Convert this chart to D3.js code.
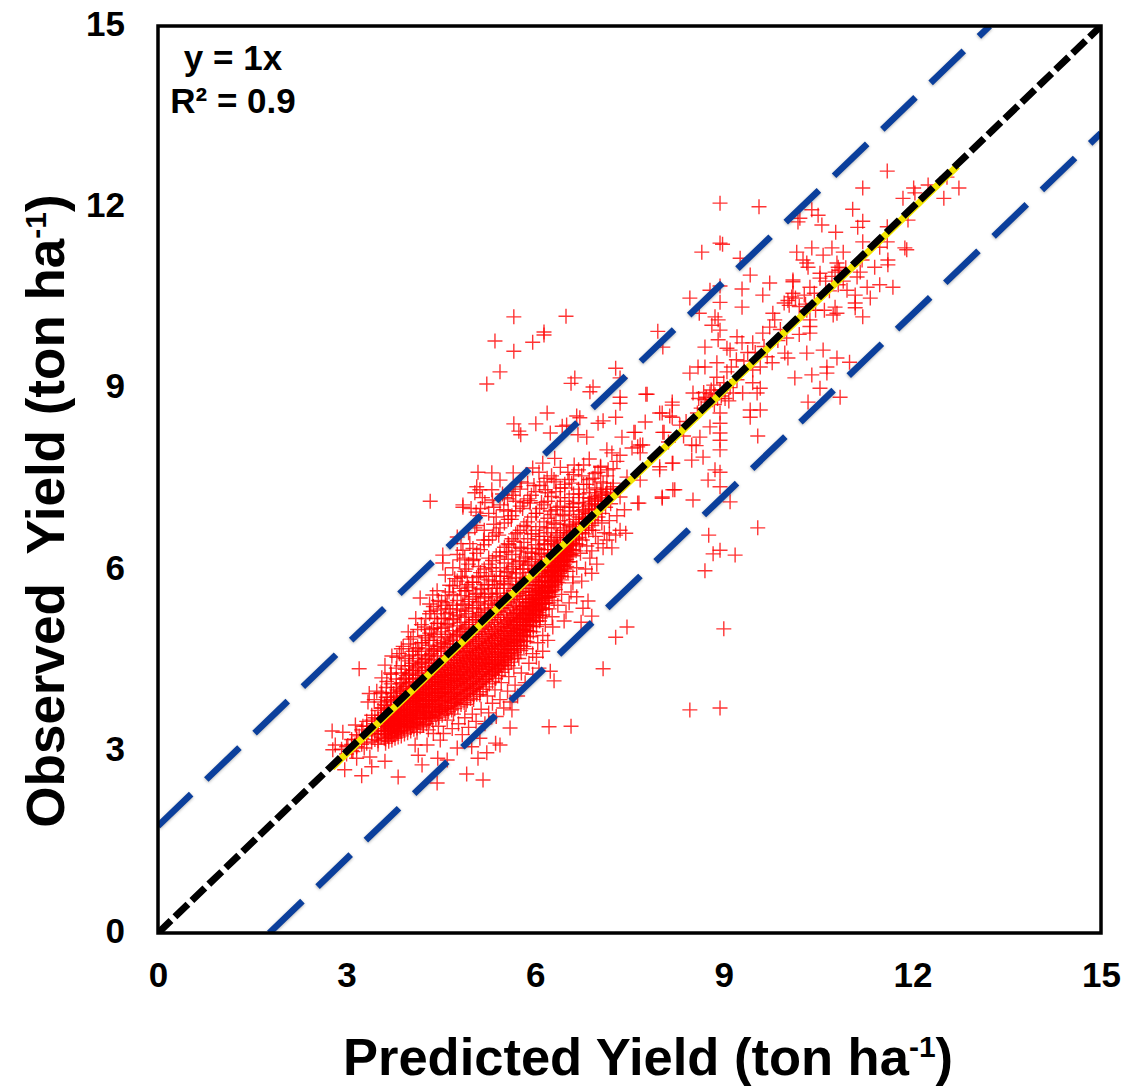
<!DOCTYPE html>
<html>
<head>
<meta charset="utf-8">
<script src="https://d3js.org/d3.v7.min.js"></script>
<style>
  body{margin:0;background:#fff;}
  svg{display:block;}
  text{font-family:"Liberation Sans",Arial,sans-serif;font-weight:bold;fill:#000;white-space:pre;}
</style>
</head>
<body>
<div id="chart"></div>
<script>
let w=1129;
let h=1088;

let xTicks=[0,3,6,9,12,15];
let yTicks=[0,3,6,9,12,15];
let blueOffset=1.77;
let yellowStart=2.75;
let yellowEnd=12.7;

// the outliers, one by one
let scatterTop=[[5.66,10.19],[6.49,10.2],[6.14,9.94],[6.14,9.89],[5.96,9.77],[5.36,9.79],[5.66,9.62],[5.44,9.28],[5.23,9.08],[7.95,9.95],[8.03,9.69],[7.28,9.34],[7.35,9.18],[6.63,9.18],[6.57,9.09],[6.92,9.03],[6.87,8.95],[7.35,8.86],[7.35,8.76],[7.76,8.91],[6.19,8.6],[5.66,8.42],[6.01,8.42],[5.77,8.24],[5.74,8.3],[6.24,8.27],[6.43,8.38],[6.5,8.4],[6.66,8.55],[6.71,8.52],[6.82,8.2],[6.68,8.24],[7.0,8.43],[7.08,8.47],[7.28,8.53],[7.75,8.45],[7.38,8.2],[7.57,8.28],[7.98,8.6],[8.14,8.55],[8.18,8.73],[8.05,8.28],[6.31,7.85],[6.12,7.77],[5.96,7.69],[6.06,7.62],[6.52,7.62],[6.19,7.52],[6.58,7.44],[6.47,7.36],[6.16,7.33],[5.09,7.62],[5.31,7.61],[5.65,7.61],[5.44,7.49],[5.07,7.38],[5.12,7.33],[5.04,7.28],[5.68,7.38],[5.65,7.24],[4.85,7.04],[5.31,7.33],[5.92,7.11],[7.14,7.99],[7.22,7.94],[7.35,7.9],[7.63,8.04],[7.71,8.07],[7.54,8.02],[7.67,7.94],[7.98,7.71],[8.18,7.77],[8.02,7.21],[8.19,7.33],[7.65,7.11],[7.0,7.62],[6.98,7.33],[7.08,7.44],[7.24,7.38],[7.14,7.28],[7.35,7.21],[6.87,7.19],[6.76,7.11],[6.55,7.04],[6.35,7.04],[5.92,7.15],[7.67,7.49],[7.46,7.54],[4.33,7.14],[4.85,7.08]];

let scatterRight=[[11.6,12.6],[11.21,12.32],[12.02,12.32],[12.25,12.37],[12.74,12.32],[12.55,12.5],[12.5,12.15],[11.85,12.15],[12.04,12.24],[11.05,11.97],[11.21,11.77],[11.13,11.67],[11.93,11.79],[11.6,11.68],[10.78,11.59],[10.4,11.96],[10.21,11.82],[10.18,11.76],[10.5,11.87],[10.56,11.71],[11.88,11.33],[11.91,11.3],[11.6,11.43],[11.21,11.43],[11.48,11.34],[10.16,11.26],[10.4,11.33],[10.26,11.13],[10.34,11.01],[10.58,11.21],[10.72,11.33],[10.9,11.26],[10.8,11.08],[10.82,11.01],[10.77,10.93],[11.61,11.13],[11.61,11.05],[11.4,11.01],[11.17,10.93],[11.12,10.85],[11.2,11.13],[11.69,10.68],[11.48,10.72],[11.28,10.68],[11.33,10.5],[11.09,10.55],[11.09,10.42],[11.09,10.34],[11.21,10.19],[10.96,10.63],[10.82,10.72],[10.53,10.91],[10.53,10.83],[10.1,10.77],[10.37,10.68],[10.08,10.52],[10.02,10.46],[10.14,10.5],[10.1,10.58],[10.04,10.38],[9.96,10.42],[10.2,10.36],[10.77,10.35],[10.8,10.25],[10.74,10.22],[10.6,10.3],[10.37,10.14],[10.37,10.03],[10.3,10.4],[10.46,10.3],[10.9,10.78],[10.68,10.62],[10.62,10.78],[10.44,10.58],[10.28,10.55],[10.84,10.96],[10.94,11.0],[10.72,10.86]];

let scatterMiddle=[[8.94,12.07],[9.56,12.01],[8.94,11.41],[8.98,11.39],[8.65,11.26],[9.42,10.88],[9.26,11.16],[9.73,10.75],[9.29,10.65],[9.62,10.55],[9.29,10.35],[8.94,10.7],[8.78,10.63],[8.46,10.5],[8.61,10.25],[8.94,10.43],[8.86,10.19],[8.91,10.14],[8.81,10.05],[8.94,9.97],[8.7,9.69],[8.91,9.81],[9.05,9.67],[9.21,9.86],[9.29,9.76],[9.46,9.76],[9.62,9.92],[9.73,10.02],[9.78,10.25],[9.81,10.14],[10.1,10.8],[10.32,11.08],[10.32,10.3],[10.37,9.92],[10.32,9.59],[10.58,9.64],[10.8,9.51],[11.0,9.44],[10.64,9.36],[10.64,9.26],[10.4,9.23],[10.13,9.18],[10.53,9.01],[10.85,8.86],[10.34,8.78],[9.97,9.59],[10.02,9.51],[9.69,9.53],[9.77,9.43],[9.58,9.36],[9.46,9.31],[9.1,9.64],[8.89,9.43],[8.7,9.36],[8.46,9.26],[8.59,9.36],[8.89,9.19],[9.05,9.28],[9.46,9.1],[9.58,9.01],[9.21,9.15],[9.15,8.93],[9.3,8.93],[9.53,8.93],[8.94,8.98],[8.51,8.93],[8.72,8.86],[8.78,8.92],[8.82,8.82],[8.86,8.9],[8.68,8.94],[8.75,8.78],[8.9,8.84],[8.96,8.88],[8.8,8.98],[8.7,8.82],[8.85,8.74],[9.02,8.84],[9.08,8.8],[8.6,8.84],[7.78,8.91],[8.18,8.78],[8.02,8.6],[8.18,8.53],[8.94,8.6],[8.94,8.43],[8.94,8.27],[8.94,8.15],[8.94,7.99],[9.42,8.65],[9.42,8.53],[9.58,8.65],[9.54,8.22],[8.78,8.37],[8.62,8.2],[8.49,8.07],[8.56,8.06],[8.67,7.87],[8.49,7.82],[8.03,8.28],[7.59,8.28],[7.67,8.07],[8.19,7.77],[7.98,7.66],[8.94,7.62],[8.75,7.49],[8.86,7.66],[8.94,7.38],[8.22,7.33],[8.02,7.19],[8.51,7.16],[9.1,7.13],[7.63,7.11],[9.12,9.36],[9.32,9.46],[9.5,9.6],[9.64,9.7],[9.86,9.8],[9.9,9.98],[9.38,9.6],[9.2,9.48],[10.0,9.84],[10.2,9.9],[8.3,8.4],[8.36,8.22],[8.12,8.12],[8.4,8.46],[8.58,8.6],[9.0,9.1],[8.84,9.06],[9.1,9.02],[8.64,8.68]];

let scatterLower=[[9.54,6.7],[8.76,6.58],[8.94,6.33],[8.83,6.27],[9.18,6.25],[8.7,5.99],[9.0,5.03],[8.94,3.72],[8.46,3.69],[7.46,5.06],[7.28,4.89],[7.08,4.37],[6.57,3.42],[6.22,3.41],[6.3,4.17],[6.24,4.33],[6.12,4.66],[6.28,5.06],[6.27,5.23],[6.49,5.31],[6.73,5.14],[6.9,5.24],[6.76,5.37],[6.84,5.49],[6.57,5.64],[6.6,5.79],[6.6,5.89],[6.9,5.95],[6.98,6.1],[6.87,6.2],[7.22,6.37],[7.08,6.37],[7.35,6.66],[7.44,6.61],[7.28,6.58],[6.92,6.66],[6.2,5.64],[6.08,5.21],[7.1,6.62],[7.18,6.82],[7.3,6.9],[7.42,7.0],[7.14,6.5],[6.82,6.4],
[3.2,4.37],[3.61,4.43],[2.77,3.34],[2.94,3.32],[2.82,3.11],[2.78,3.03],[2.92,3.04],[3.16,2.89],[3.37,2.91],[2.97,2.7],[3.24,2.6],[3.4,2.75],[3.61,2.84],[3.82,2.58],[4.2,2.78],[4.44,2.48],[4.45,2.89],[4.6,2.86],[4.91,2.63],[5.17,2.53],[5.09,2.89],[5.23,2.98],[5.44,3.11],[5.37,3.14],[5.6,3.39],[5.63,3.69],[4.76,3.06],[4.99,3.08],[5.12,3.22],[4.09,3.11],[4.14,2.94],[4.28,3.11],[4.49,3.19],[4.38,3.3],[3.8,3.31],[3.34,3.82],[3.36,3.96],[3.8,4.56],[3.02,3.1],[3.1,3.0],[3.2,3.26],[3.28,3.06],[3.5,3.12]];

// the looser cloud on both sides of the 1:1 line
let scatterCloud=[[4.17,5.54],[4.37,5.59],[4.53,6.25],[4.53,6.12],[4.76,6.55],[4.85,6.33],[4.8,6.17],[4.64,5.75],[4.1,5.2],[4.24,5.06],[4.34,5.32],[4.46,5.5],[4.58,5.42],[4.72,5.86],[4.9,6.02],[4.96,6.44],[5.04,6.7],[5.12,6.9],[5.18,6.5],[5.26,6.2],[5.34,6.76],[5.42,6.58],[5.5,7.0],[5.58,6.42],[5.62,6.84],[5.72,6.62],[5.8,7.02],[5.86,6.72],[6.02,6.94],[6.1,7.12],[6.24,6.98],[6.4,7.2],[5.02,6.18],[5.1,6.06],[5.22,5.9],[4.92,5.76],[4.84,5.88],[5.3,6.04],[5.44,6.22],[5.54,6.3],[5.66,6.48],[5.78,6.36],[5.94,6.6],[6.06,6.56],[6.18,6.7],[6.3,6.78],[6.44,6.92],[6.6,7.1],[6.7,7.26],[6.82,7.42],[6.92,7.52],[7.04,7.7],[7.16,7.66],[7.3,7.8],[6.3,7.5],[6.62,7.74],[6.74,7.56],[5.98,7.4],[5.78,7.46],[5.56,7.18],[5.2,7.12],[4.98,7.02],[5.06,6.96],[5.16,7.2],[5.34,7.04],[5.48,7.26],[3.98,4.98],[4.02,4.86],[3.9,4.74],[3.84,4.62],[3.72,4.58],[3.7,4.3],[3.64,4.16],[3.56,4.22],[3.48,4.0],[3.44,3.86],[3.56,3.96],[3.26,3.42],[3.14,3.44],
[4.02,3.4],[4.12,3.32],[4.22,3.44],[4.3,3.36],[4.34,3.56],[4.46,3.42],[4.54,3.3],[4.6,3.52],[4.68,3.38],[4.7,3.62],[4.78,3.46],[4.84,3.28],[4.88,3.56],[4.94,3.4],[5.0,3.62],[5.06,3.5],[5.14,3.7],[5.2,3.46],[5.26,3.64],[5.32,3.8],[5.38,3.58],[5.44,3.86],[5.5,3.72],[5.56,4.0],[5.6,3.82],[5.68,4.1],[5.72,3.92],[5.78,4.3],[5.84,4.14],[5.9,4.46],[5.96,4.28],[6.02,4.56],[6.06,4.38],[5.58,4.24],[5.46,4.14],[5.36,4.02],[5.24,3.92],[5.12,3.94],[5.02,3.86],[4.9,3.78],[4.74,3.8],[4.6,3.72],[4.48,3.66],[4.36,3.74],[4.24,3.64],[4.12,3.56],[4.02,3.6],[3.92,3.5],[3.84,3.46],[3.74,3.42],[3.66,3.36],[3.58,3.44],[3.48,3.28],
[6.12,4.92],[6.2,4.84],[6.04,4.8],[5.96,4.62],[6.16,5.1],[6.22,5.36],[6.1,5.44],[6.3,5.5],[6.36,5.42],[6.42,5.6],[6.46,5.16],[6.54,5.46],[6.66,5.56],[6.42,5.84],[6.52,5.98],[6.66,6.04],[6.74,5.82],[6.8,6.02],[6.9,6.32],[6.72,6.28],[7.0,6.44],[6.96,6.56],[7.06,6.78],[7.18,6.6],[5.86,4.7],[5.74,4.54],[5.66,4.38],[5.5,4.44]];

// tight core of the cloud, column by column: predicted value, then the observed values
let coreColumns=[
[3.0,[2.96,3.08]],[3.08,[3.02,3.12,3.2]],[3.16,[3.08,3.2,3.28]],[3.24,[3.12,3.22,3.36]],[3.32,[3.14,3.26,3.42,3.5]],
[3.4,[3.16,3.3,3.38,3.52,3.6]],[3.45,[3.2,3.34,3.46,3.56]],[3.5,[3.18,3.3,3.42,3.54,3.68]],[3.55,[3.24,3.38,3.48,3.6,3.72]],[3.6,[3.22,3.34,3.46,3.56,3.64,3.78]],
[3.65,[3.26,3.4,3.5,3.58,3.7,3.84]],[3.7,[3.3,3.38,3.48,3.56,3.66,3.76,3.9]],[3.75,[3.28,3.42,3.52,3.62,3.7,3.82,3.96]],[3.8,[3.34,3.46,3.54,3.64,3.74,3.86,4.02]],[3.85,[3.36,3.44,3.58,3.68,3.78,3.88,4.0,4.12]],
[3.9,[3.38,3.5,3.6,3.7,3.82,3.92,4.04,4.2]],[3.95,[3.42,3.54,3.64,3.74,3.84,3.96,4.08,4.26]],[4.0,[3.46,3.58,3.68,3.78,3.88,4.0,4.12,4.3,4.5]],[4.05,[3.44,3.56,3.7,3.82,3.92,4.02,4.16,4.34,4.6]],[4.1,[3.5,3.62,3.74,3.84,3.94,4.06,4.2,4.38,4.7]],
[4.15,[3.48,3.66,3.78,3.88,3.98,4.1,4.22,4.44,4.66]],[4.2,[3.54,3.68,3.8,3.9,4.02,4.14,4.26,4.48,4.8]],[4.25,[3.56,3.72,3.84,3.94,4.06,4.18,4.3,4.52,4.92]],[4.3,[3.6,3.74,3.86,3.98,4.08,4.2,4.34,4.58,4.84]],[4.35,[3.58,3.78,3.9,4.02,4.14,4.24,4.38,4.62,5.02]],
[4.4,[3.64,3.8,3.92,4.04,4.16,4.28,4.42,4.66,4.94,5.2]],[4.45,[3.62,3.84,3.96,4.08,4.2,4.32,4.46,4.7,5.12]],[4.5,[3.68,3.86,3.98,4.12,4.24,4.36,4.5,4.74,5.04,5.36]],[4.55,[3.7,3.9,4.02,4.14,4.26,4.4,4.54,4.78,5.2]],[4.6,[3.74,3.92,4.06,4.18,4.3,4.44,4.58,4.82,5.1,5.46]],
[4.65,[3.76,3.96,4.1,4.22,4.34,4.48,4.62,4.86,5.3]],[4.7,[3.82,3.98,4.12,4.26,4.38,4.52,4.66,4.9,5.18,5.6]],[4.75,[3.86,4.02,4.16,4.28,4.42,4.56,4.7,4.94,5.36]],[4.8,[3.88,4.06,4.2,4.32,4.46,4.6,4.74,4.98,5.24,5.7]],[4.85,[3.92,4.1,4.22,4.36,4.5,4.64,4.78,5.02,5.44]],
[4.9,[3.96,4.12,4.26,4.4,4.54,4.66,4.82,5.06,5.32,5.66]],[4.95,[4.0,4.16,4.3,4.44,4.58,4.7,4.86,5.1,5.52]],[5.0,[4.04,4.2,4.34,4.48,4.6,4.74,4.9,5.14,5.38,5.8]],[5.05,[4.06,4.24,4.38,4.52,4.64,4.78,4.94,5.18,5.6]],[5.1,[4.12,4.28,4.42,4.54,4.68,4.82,4.98,5.22,5.46,5.9]],
[5.15,[4.16,4.32,4.46,4.58,4.72,4.86,5.02,5.26,5.68]],[5.2,[4.2,4.36,4.48,4.62,4.76,4.9,5.06,5.3,5.54]],[5.25,[4.26,4.4,4.52,4.66,4.8,4.94,5.1,5.34,5.76]],[5.3,[4.3,4.44,4.56,4.7,4.84,4.98,5.14,5.38,5.6]],[5.35,[4.34,4.46,4.6,4.74,4.88,5.02,5.18,5.42,5.82]],
[5.4,[4.38,4.5,4.64,4.78,4.92,5.06,5.22,5.46,5.7]],[5.45,[4.42,4.56,4.7,4.84,4.96,5.1,5.26,5.5,5.9]],[5.5,[4.5,4.62,4.76,4.88,5.0,5.14,5.3,5.54,5.78]],[5.55,[4.56,4.68,4.8,4.92,5.06,5.18,5.34,5.58,5.98]],[5.6,[4.62,4.74,4.86,4.98,5.1,5.22,5.38,5.62,5.86]],
[5.65,[4.7,4.82,4.92,5.04,5.16,5.28,5.42,5.66,6.06]],[5.7,[4.76,4.88,5.0,5.1,5.22,5.34,5.48,5.7,5.94]],[5.75,[4.84,4.96,5.06,5.18,5.28,5.4,5.52,5.76,6.14]],[5.8,[4.92,5.02,5.14,5.24,5.36,5.46,5.58,5.8,6.02]],[5.85,[5.0,5.1,5.2,5.3,5.42,5.52,5.64,5.86,6.2]],
[5.9,[5.08,5.18,5.28,5.38,5.48,5.58,5.7,5.9,6.1]],[5.95,[5.14,5.26,5.36,5.46,5.54,5.64,5.76,5.96,6.28]],[6.0,[5.22,5.32,5.42,5.52,5.6,5.7,5.82,6.0,6.18]],[6.05,[5.3,5.4,5.5,5.58,5.68,5.76,5.88,6.06,6.36]],[6.1,[5.38,5.5,5.58,5.66,5.74,5.82,5.94,6.12,6.26]],
[6.15,[5.46,5.58,5.66,5.74,5.82,5.9,6.0,6.16,6.44]],[6.2,[5.56,5.66,5.74,5.82,5.9,5.98,6.08,6.22,6.34]],[6.25,[5.64,5.74,5.82,5.9,5.96,6.06,6.14,6.28,6.5]],[6.3,[5.72,5.82,5.9,5.98,6.04,6.12,6.2,6.34,6.44]],[6.35,[5.8,5.9,5.98,6.06,6.14,6.2,6.26,6.4,6.58]],
[6.4,[5.9,6.0,6.08,6.14,6.22,6.28,6.32,6.46,6.54]],[6.45,[5.98,6.08,6.16,6.24,6.3,6.36,6.4,6.5,6.66]],[6.5,[6.06,6.18,6.26,6.32,6.38,6.44,6.54,6.62]],[6.55,[6.14,6.26,6.34,6.42,6.48,6.58,6.74]],[6.6,[6.24,6.34,6.44,6.5,6.56,6.64,6.72]],
[6.65,[6.32,6.44,6.52,6.6,6.66,6.8]],[6.7,[6.42,6.54,6.62,6.68,6.78,6.88]],[6.75,[6.5,6.62,6.7,6.76,6.84,6.98]],[6.8,[6.6,6.7,6.78,6.86,6.96]],[6.85,[6.66,6.78,6.86,6.94,7.06]],
[6.9,[6.74,6.84,6.94,7.02,7.14]],[6.95,[6.82,6.92,7.0,7.1,7.22]],[7.0,[6.88,7.0,7.08,7.18]],[7.06,[6.94,7.06,7.2,7.3]],[7.12,[7.04,7.14,7.26]],[7.2,[7.1,7.24,7.34]]
];

// the solid wedge just under the line, read as a second, tighter set of columns
let wedgeColumns=[
[3.62,[3.14,3.21,3.29,3.35,3.43,3.5,3.58]],[3.67,[3.17,3.24,3.33,3.41,3.47,3.55,3.62]],[3.72,[3.19,3.26,3.35,3.44,3.51,3.59,3.67]],[3.77,[3.22,3.31,3.39,3.47,3.54,3.63,3.72]],[3.82,[3.24,3.33,3.42,3.5,3.57,3.66,3.77]],
[3.87,[3.26,3.35,3.45,3.53,3.61,3.7,3.8,3.85]],[3.92,[3.29,3.4,3.48,3.56,3.65,3.74,3.83,3.9]],[3.97,[3.31,3.42,3.51,3.6,3.69,3.78,3.87,3.95]],[4.02,[3.34,3.44,3.53,3.63,3.72,3.81,3.91,4.0]],[4.07,[3.37,3.47,3.57,3.66,3.75,3.85,3.95,4.05]],
[4.12,[3.39,3.49,3.6,3.69,3.79,3.89,3.99,4.09]],[4.17,[3.41,3.53,3.63,3.73,3.83,3.93,4.03,4.14]],[4.22,[3.44,3.55,3.66,3.76,3.86,3.96,4.07,4.19]],[4.27,[3.46,3.59,3.69,3.79,3.89,4.0,4.11,4.24]],[4.32,[3.5,3.61,3.72,3.83,3.93,4.04,4.15,4.29]],
[4.37,[3.52,3.65,3.75,3.86,3.97,4.08,4.19,4.33]],[4.42,[3.55,3.67,3.78,3.89,4.0,4.11,4.23,4.37]],[4.47,[3.57,3.7,3.82,3.93,4.04,4.15,4.27,4.42]],[4.52,[3.6,3.73,3.84,3.96,4.07,4.19,4.31,4.47]],[4.57,[3.63,3.76,3.88,3.99,4.11,4.23,4.35,4.52]],
[4.62,[3.66,3.79,3.91,4.03,4.15,4.27,4.39,4.57]],[4.67,[3.69,3.82,3.94,4.06,4.18,4.3,4.43,4.61]],[4.72,[3.71,3.85,3.97,4.09,4.21,4.34,4.47,4.66]],[4.77,[3.74,3.88,4.0,4.13,4.25,4.38,4.51,4.71]],[4.82,[3.78,3.91,4.03,4.16,4.28,4.41,4.55,4.76]],
[4.87,[3.81,3.94,4.07,4.19,4.32,4.45,4.59,4.8]],[4.92,[3.84,3.97,4.1,4.23,4.36,4.49,4.63,4.85]],[4.97,[3.88,4.01,4.13,4.26,4.39,4.53,4.67,4.9]],[5.02,[3.91,4.04,4.17,4.3,4.43,4.56,4.71,4.94]],[5.07,[3.95,4.08,4.21,4.33,4.47,4.6,4.75,4.99]],
[5.12,[3.99,4.11,4.24,4.37,4.5,4.64,4.79,5.04]],[5.17,[4.03,4.15,4.28,4.41,4.54,4.68,4.83,5.08]],[5.22,[4.07,4.19,4.32,4.44,4.57,4.71,4.87,5.13]],[5.27,[4.12,4.24,4.36,4.48,4.61,4.75,4.91,5.18]],[5.32,[4.16,4.28,4.4,4.52,4.65,4.79,4.95,5.22]],
[5.37,[4.21,4.32,4.44,4.56,4.69,4.83,4.99,5.27]],[5.42,[4.26,4.37,4.48,4.6,4.73,4.87,5.03,5.32]],[5.47,[4.31,4.42,4.53,4.65,4.77,4.91,5.07,5.37]],[5.52,[4.36,4.47,4.58,4.69,4.82,4.95,5.12,5.42]],[5.57,[4.42,4.52,4.63,4.74,4.86,4.99,5.16,5.46]],
[5.62,[4.48,4.58,4.68,4.79,4.91,5.04,5.2,5.51]],[5.67,[4.54,4.64,4.74,4.85,4.96,5.09,5.25,5.56]],[5.72,[4.6,4.7,4.8,4.91,5.02,5.14,5.3,5.61]],[5.77,[4.67,4.76,4.86,4.97,5.08,5.2,5.35,5.65]],[5.82,[4.74,4.83,4.93,5.03,5.14,5.26,5.4,5.7]],
[5.87,[4.82,4.91,5.0,5.1,5.21,5.33,5.46,5.75]],[5.92,[4.9,4.99,5.08,5.17,5.28,5.4,5.52,5.8]],[5.97,[4.98,5.07,5.16,5.25,5.35,5.47,5.59,5.85]],[6.02,[5.07,5.16,5.25,5.34,5.44,5.55,5.66,5.9]],[6.07,[5.16,5.25,5.34,5.43,5.53,5.63,5.74,5.95]],
[6.12,[5.26,5.35,5.44,5.53,5.62,5.71,5.81,6.0]],[6.17,[5.36,5.45,5.54,5.62,5.71,5.8,5.89,6.05]],[6.22,[5.46,5.55,5.64,5.72,5.81,5.89,5.97,6.1]],[6.27,[5.57,5.66,5.74,5.82,5.9,5.98,6.05,6.15]],[6.32,[5.68,5.76,5.84,5.92,6.0,6.07,6.14,6.2]],
[6.37,[5.79,5.87,5.95,6.02,6.09,6.16,6.25]],[6.42,[5.9,5.98,6.06,6.13,6.2,6.26,6.3]],[6.47,[6.02,6.1,6.17,6.24,6.3,6.36]],[6.52,[6.14,6.22,6.29,6.35,6.41]],[6.57,[6.26,6.33,6.4,6.46]]
];

// band just above the line, thinning out upward
let upperColumns=[
[3.55,[3.72,3.82,3.98]],[3.63,[3.76,3.9,4.06]],[3.71,[3.86,3.98,4.12,4.28]],[3.79,[3.92,4.06,4.2,4.38]],[3.87,[4.0,4.14,4.3,4.42,4.7]],
[3.93,[4.08,4.22,4.36,4.54]],[3.99,[4.14,4.28,4.42,4.58,4.78]],[4.06,[4.2,4.34,4.46,4.66,4.9]],[4.13,[4.26,4.4,4.54,4.72,5.02]],[4.19,[4.34,4.48,4.6,4.8,5.1]],
[4.26,[4.4,4.54,4.7,4.88,5.2]],[4.32,[4.46,4.6,4.76,4.96,5.28,5.44]],[4.38,[4.52,4.68,4.84,5.04,5.4]],[4.44,[4.58,4.74,4.9,5.12,5.34,5.66]],[4.51,[4.66,4.8,4.98,5.2,5.48]],
[4.57,[4.72,4.88,5.06,5.28,5.58,5.92]],[4.63,[4.78,4.94,5.12,5.36,5.64]],[4.69,[4.84,5.0,5.2,5.42,5.74,6.04]],[4.76,[4.92,5.08,5.26,5.5,5.82,6.26]],[4.82,[4.98,5.14,5.34,5.58,5.9,6.44]],
[4.88,[5.04,5.22,5.42,5.66,5.98,6.2]],[4.94,[5.1,5.28,5.48,5.72,6.1,6.62]],[5.01,[5.18,5.36,5.56,5.8,6.16,6.36]],[5.07,[5.24,5.42,5.62,5.88,6.28,6.74]],[5.13,[5.3,5.48,5.7,5.96,6.34,7.02]],
[5.19,[5.36,5.56,5.76,6.02,6.42,6.66]],[5.26,[5.44,5.62,5.84,6.1,6.5,6.94]],[5.32,[5.5,5.7,5.9,6.16,6.56,7.16]],[5.38,[5.56,5.76,5.98,6.24,6.62,6.88]],[5.44,[5.62,5.82,6.04,6.3,6.7,7.08]],
[5.51,[5.7,5.9,6.12,6.38,6.78,7.2]],[5.57,[5.76,5.96,6.18,6.44,6.84,6.98]],[5.63,[5.82,6.02,6.26,6.52,6.9,7.3]],[5.69,[5.88,6.1,6.32,6.6,6.98,7.14]],[5.76,[5.96,6.16,6.38,6.66,7.06,7.34]],
[5.82,[6.02,6.22,6.46,6.74,7.12]],[5.88,[6.08,6.3,6.52,6.8,7.18,7.44]],[5.94,[6.14,6.36,6.6,6.88,7.24]],[6.01,[6.22,6.42,6.66,6.94,7.3]],[6.07,[6.28,6.5,6.72,7.02,7.4]],
[6.14,[6.34,6.56,6.8,7.08,7.46]],[6.2,[6.42,6.62,6.86,7.14,7.28]],[6.26,[6.48,6.7,6.92,7.22,7.56]],[6.33,[6.54,6.76,7.0,7.3,7.46]],[6.4,[6.62,6.82,7.06,7.36,7.7]],
[6.47,[6.7,6.9,7.14,7.42]],[6.54,[6.76,6.98,7.2,7.5]],[6.61,[6.84,7.04,7.26,7.58]],[6.69,[6.92,7.12,7.34,7.66]],[6.77,[7.0,7.2,7.42,7.74]],
[6.86,[7.08,7.28,7.5,7.84]],[6.95,[7.16,7.36,7.6]],[7.04,[7.24,7.46,7.72]],[7.14,[7.34,7.56]],[7.24,[7.44,7.68]]
];

let margin={top:26,right:28,bottom:155,left:158};

let xScale=d3.scaleLinear().domain([0,15]).range([margin.left,w-margin.right]);
let yScale=d3.scaleLinear().domain([0,15]).range([h-margin.bottom,margin.top]);

let viz=d3.select("#chart").append("svg")
  .attr("width",w)
  .attr("height",h)
  ;

let defs=viz.append("defs");
defs.append("clipPath").attr("id","plotClip").append("rect")
  .attr("x",xScale(0))
  .attr("y",yScale(15))
  .attr("width",xScale(15)-xScale(0))
  .attr("height",yScale(0)-yScale(15))
  ;

// markers
let allPoints=[].concat(scatterCloud,scatterTop,scatterRight,scatterMiddle,scatterLower);
[coreColumns,wedgeColumns,upperColumns].forEach(function(columns){
  columns.forEach(function(col){
    col[1].forEach(function(v){
      allPoints.push([col[0],v]);
    });
  });
});

viz.append("g").selectAll(".mark").data(allPoints).enter()
  .append("path")
  .attr("class","mark")
  .attr("d","M-7.5,0H7.5M0,-7.5V7.5")
  .attr("transform",function(d){
    return "translate("+xScale(d[0])+","+yScale(d[1])+")";
  })
  .attr("fill","none")
  .attr("stroke","#ff0000")
  .attr("stroke-width",1.4)
  .attr("stroke-opacity",0.8)
  ;

// lines
let lines=viz.append("g").attr("clip-path","url(#plotClip)");

function addLine(x1,y1,x2,y2,color,width,dash){
  return lines.append("line")
    .attr("x1",xScale(x1))
    .attr("y1",yScale(y1))
    .attr("x2",xScale(x2))
    .attr("y2",yScale(y2))
    .attr("stroke",color)
    .attr("stroke-width",width)
    .attr("stroke-dasharray",dash)
    ;
}

addLine(yellowStart,yellowStart,yellowEnd,yellowEnd,"#f2e500",7,null).attr("transform","translate(1,1)");
addLine(0,0,15,15,"#000000",7,"18 5.5");
addLine(0,blueOffset,15-blueOffset,15,"#0b3f9c",6.5,"46 21").style("filter","drop-shadow(0 1.5px 1.5px rgba(0,0,0,.3))");
addLine(blueOffset,0,15,15-blueOffset,"#0b3f9c",6.5,"46 21").style("filter","drop-shadow(0 1.5px 1.5px rgba(0,0,0,.3))");

// frame
viz.append("rect")
  .attr("x",xScale(0))
  .attr("y",yScale(15))
  .attr("width",xScale(15)-xScale(0))
  .attr("height",yScale(0)-yScale(15))
  .attr("fill","none")
  .attr("stroke","#000")
  .attr("stroke-width",3.5)
  ;

// axes, no tick marks, labels only
let xAxis=d3.axisBottom(xScale).tickValues(xTicks).tickSize(0).tickPadding(29);
let xAxisGroup=viz.append("g").attr("transform","translate(0,"+yScale(0)+")").call(xAxis);
xAxisGroup.select(".domain").remove();
xAxisGroup.selectAll("text").style("font-size","35px").attr("fill","#000");

let yAxis=d3.axisLeft(yScale).tickValues(yTicks).tickSize(0).tickPadding(33);
let yAxisGroup=viz.append("g").attr("transform","translate("+xScale(0)+",0)").call(yAxis);
yAxisGroup.select(".domain").remove();
yAxisGroup.selectAll("text").style("font-size","35px").attr("fill","#000").attr("dy","0.26em");

// note in the corner
viz.append("text").text("y = 1x").attr("x",233).attr("y",70).attr("text-anchor","middle").style("font-size","35px");
viz.append("text").text("R² = 0.9").attr("x",233).attr("y",113).attr("text-anchor","middle").style("font-size","35px");

// titles
let xTitle=viz.append("text")
  .attr("x",648)
  .attr("y",1075)
  .attr("text-anchor","middle")
  .style("font-size","52.5px")
  ;
xTitle.append("tspan").text("Predicted Yield (ton ha");
xTitle.append("tspan").text("-1").attr("dy",-18).style("font-size","30px");
xTitle.append("tspan").text(")").attr("dy",18);

let yTitle=viz.append("text")
  .attr("transform","translate(64,511) rotate(-90)")
  .attr("text-anchor","middle")
  .style("font-size","53px")
  ;
yTitle.append("tspan").text("Observed  Yield (ton ha");
yTitle.append("tspan").text("-1").attr("dy",-18).style("font-size","30px");
yTitle.append("tspan").text(")").attr("dy",18);
</script>
</body>
</html>
